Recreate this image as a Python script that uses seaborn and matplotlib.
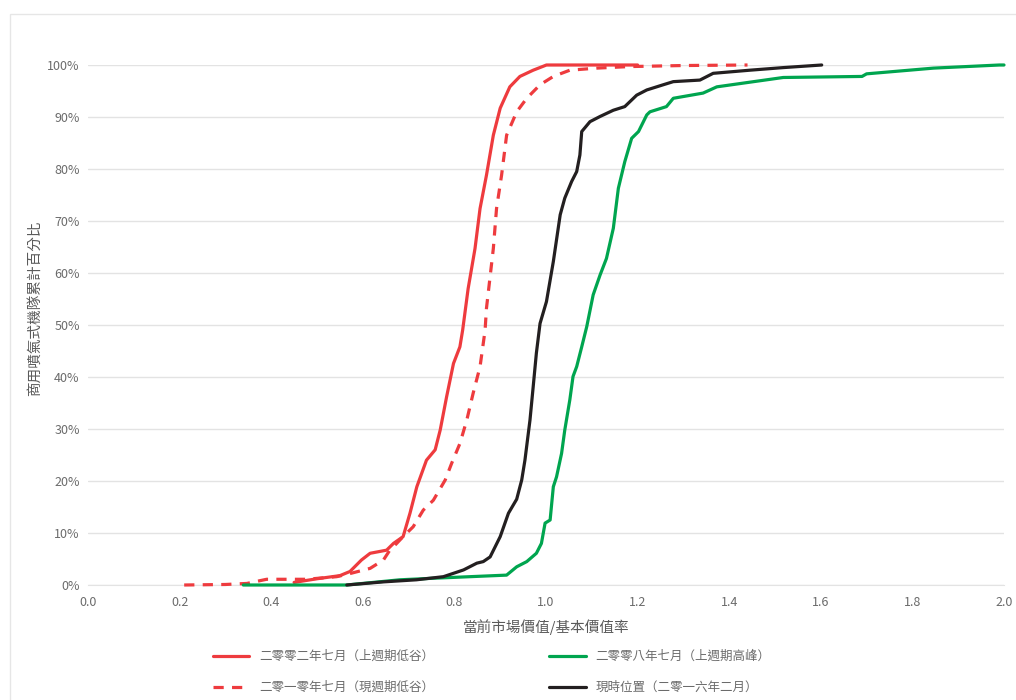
import matplotlib
matplotlib.use("Agg")
import matplotlib.pyplot as plt
import seaborn as sns
from matplotlib.patches import Rectangle
from matplotlib.ticker import PercentFormatter

# CDF curves (ratio, cumulative %)
x_2002 = [0.45, 0.50, 0.55, 0.572, 0.597, 0.616, 0.652, 0.667, 0.688, 0.703, 0.718, 0.739,
          0.758, 0.769, 0.783, 0.798, 0.812, 0.818, 0.830, 0.845, 0.856, 0.870, 0.885, 0.900,
          0.921, 0.943, 0.972, 1.001, 1.10, 1.20]
y_2002 = [0.5, 1.2, 1.8, 2.6, 4.8, 6.1, 6.7, 8.0, 9.3, 13.8, 18.9, 24.0,
          26.0, 29.8, 36.2, 42.6, 45.8, 49.0, 57.0, 64.7, 72.4, 78.8, 86.5, 91.7,
          95.8, 97.8, 99.0, 100, 100, 100]

x_2010 = [0.21, 0.30, 0.347, 0.39, 0.477, 0.543, 0.572, 0.616, 0.645, 0.659, 0.674, 0.688,
          0.71, 0.732, 0.754, 0.78, 0.794, 0.812, 0.827, 0.841, 0.856, 0.867, 0.870, 0.885,
          0.892, 0.903, 0.914, 0.936, 0.958, 0.987, 1.016, 1.052, 1.111, 1.183, 1.30, 1.44]
y_2010 = [0, 0.1, 0.3, 1.1, 1.1, 1.6, 2.2, 3.2, 4.8, 6.7, 8.0, 9.3,
          11.2, 14.4, 16.3, 20.2, 23.4, 27.2, 31.7, 36.9, 42.0, 49.0, 53.2, 64.7,
          72.4, 78.8, 86.5, 91.0, 93.6, 96.2, 97.8, 99.0, 99.4, 99.7, 99.9, 100]

x_2008 = [0.339, 0.565, 0.681, 0.754, 0.914, 0.936, 0.958, 0.979, 0.99, 0.998, 1.009, 1.016,
          1.023, 1.034, 1.041, 1.052, 1.059, 1.067, 1.078, 1.089, 1.103, 1.118, 1.132, 1.147,
          1.158, 1.172, 1.187, 1.202, 1.22, 1.227, 1.263, 1.278, 1.343, 1.373, 1.518, 1.69,
          1.70, 1.846, 1.99, 2.0]
y_2008 = [0, 0, 1.0, 1.3, 1.9, 3.5, 4.5, 6.1, 8.0, 11.9, 12.5, 18.9,
          20.8, 25.3, 29.8, 35.6, 40.1, 42.0, 45.8, 49.7, 55.8, 59.6, 62.8, 68.6,
          76.3, 81.4, 85.9, 87.2, 90.4, 91.0, 92.0, 93.6, 94.6, 95.8, 97.6, 97.8,
          98.3, 99.4, 100, 100]

x_2016 = [0.565, 0.645, 0.717, 0.776, 0.82, 0.849, 0.863, 0.878, 0.9, 0.918, 0.936, 0.947,
          0.954, 0.965, 0.972, 0.979, 0.987, 1.001, 1.016, 1.031, 1.041, 1.056, 1.067, 1.074,
          1.078, 1.096, 1.118, 1.147, 1.172, 1.198, 1.22, 1.256, 1.278, 1.336, 1.365, 1.445,
          1.518, 1.602]
y_2016 = [0, 0.6, 1.0, 1.6, 2.9, 4.2, 4.5, 5.4, 9.3, 13.8, 16.5, 20.2,
          24.0, 31.7, 38.1, 44.6, 50.3, 54.5, 62.2, 71.2, 74.4, 77.6, 79.5, 82.7,
          87.2, 89.1, 90.1, 91.3, 92.0, 94.2, 95.2, 96.2, 96.8, 97.1, 98.4, 99.0,
          99.5, 100]

labels = ["二零零二年七月（上週期低谷）", "二零一零年七月（現週期低谷）",
          "二零零八年七月（上週期高峰）", "現時位置（二零一六年二月）"]
red, green, black = "#EE3B3E", "#00A54F", "#231F20"

sns.set_style("white")
plt.rcParams['font.family'] = ['Noto Sans CJK TC', 'DejaVu Sans']

fig = plt.figure(figsize=(10.16, 7), dpi=100)
ax = fig.add_axes([88 / 1016, 1 - 585 / 700, 916 / 1016, 520 / 700])

# light container border
fig.patches.append(Rectangle((10 / 1016, -0.1), 1.2, 1 - 14 / 700 + 0.1, transform=fig.transFigure,
                             fill=False, edgecolor="#E6E6E6", lw=1, zorder=0))

series = [(x_2002, y_2002, red, "-"), (x_2010, y_2010, red, (0, (3.2, 2.6))),
          (x_2008, y_2008, green, "-"), (x_2016, y_2016, black, "-")]
for (xs, ys, col, ls), lab in zip(series, labels):
    sns.lineplot(x=xs, y=[v / 100 for v in ys], ax=ax, color=col, linestyle=ls, lw=2.3,
                 label=lab, sort=False, estimator=None, legend=False, clip_on=False, zorder=3)

ax.set_xlim(0, 2.0)
ax.set_ylim(0, 1.0)
ax.set_xticks([i / 10 for i in range(0, 21, 2)])
ax.set_yticks([i / 10 for i in range(0, 11)])
ax.yaxis.set_major_formatter(PercentFormatter(1.0, decimals=0))
ax.xaxis.set_major_formatter(matplotlib.ticker.FormatStrFormatter("%.1f"))
ax.grid(axis="y", color="#E3E3E3", lw=1)
ax.grid(axis="x", visible=False)
for s in ["top", "right", "left"]:
    ax.spines[s].set_visible(False)
ax.spines["bottom"].set_color("#E3E3E3")
ax.tick_params(length=0, labelsize=9, colors="#6B6B6B")
ax.tick_params(axis="y", pad=6)
ax.tick_params(axis="x", pad=8)

ax.set_xlabel("當前市場價值/基本價值率", fontsize=10.5, color="#5A5A5A", labelpad=7)
ax.set_ylabel("商用噴氣式機隊累計百分比", fontsize=10.5, color="#5A5A5A")
ax.yaxis.set_label_coords(-0.05, 0.533)

handles, labs = ax.get_legend_handles_labels()
fig.legend(handles, labs, ncol=2,
           loc="upper left", bbox_to_anchor=(213 / 1016, 1 - 650 / 700), frameon=False,
           fontsize=9, handlelength=2.9, handletextpad=0.8, columnspacing=9.2,
           labelspacing=1.45, borderpad=0, borderaxespad=0, labelcolor="#6B6B6B")

fig.savefig("out.png", dpi=100)
